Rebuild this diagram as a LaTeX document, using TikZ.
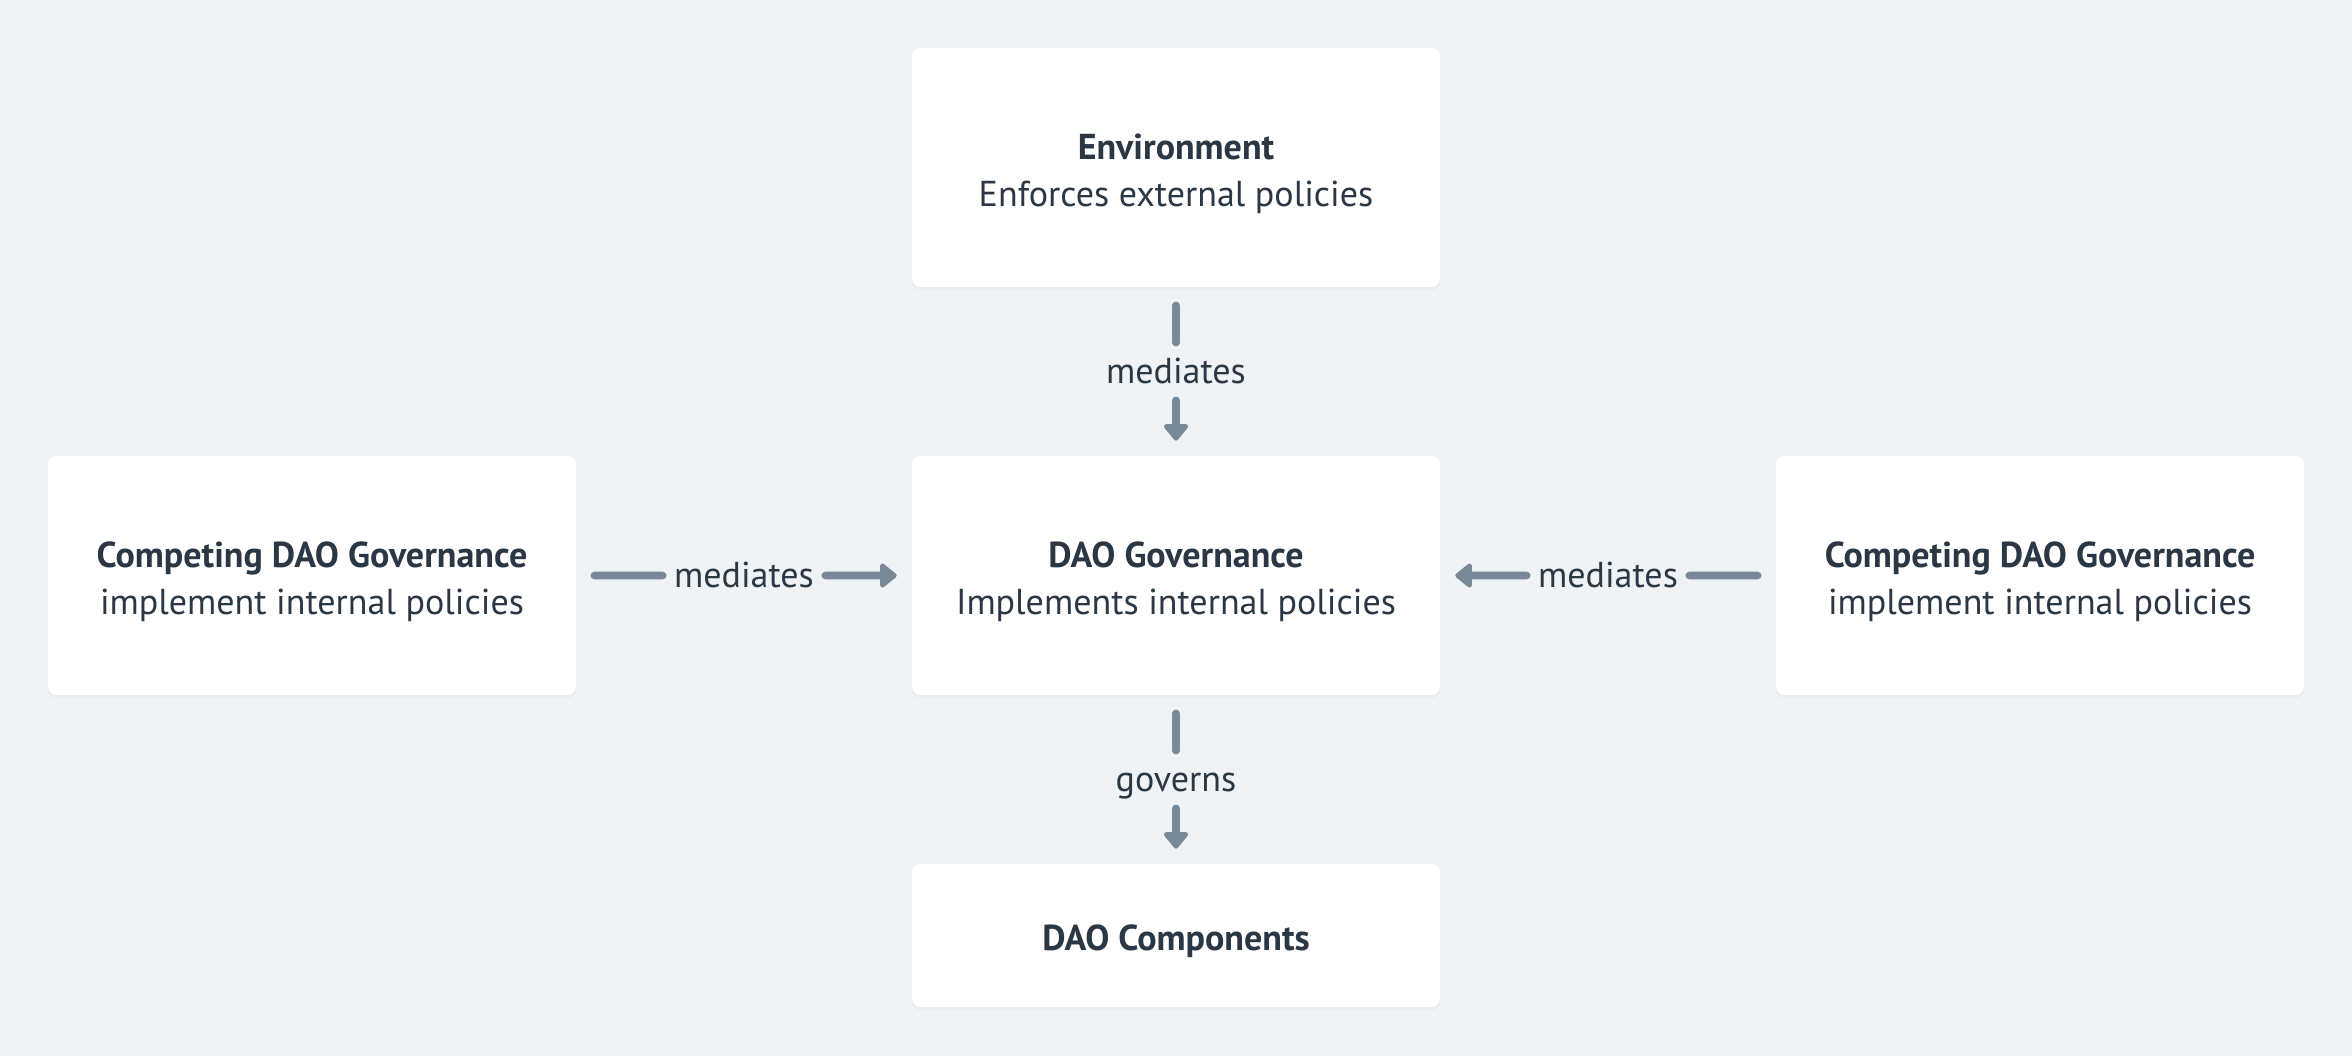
\documentclass[tikz,border=0pt]{standalone}
\usepackage{fontspec}
\setmainfont{PT Sans}
\usetikzlibrary{arrows.meta,shadows,calc}
\definecolor{bgcol}{HTML}{EFF3F6}
\definecolor{inkcol}{HTML}{2A3744}
\definecolor{linkcol}{HTML}{788897}
\newcommand\lift{\rule{0pt}{21.5pt}}
\tikzset{
  card/.style={fill=white, rounded corners=0.18cm, minimum width=10.56cm,
    minimum height=4.78cm, align=center, text=inkcol,
    font=\fontsize{20.5}{27}\selectfont,
    drop shadow={opacity=0.05, shadow xshift=0pt, shadow yshift=-0.06cm}},
  verb/.style={text=inkcol, font=\fontsize{20.5}{22}\selectfont,
    inner sep=0pt, text height=0.58cm, text depth=0.12cm},
  link/.style={draw=linkcol, line width=4.3pt, line cap=round,
    shorten <=0.36cm, shorten >=0.22cm},
  tolink/.style={draw=linkcol, line width=4.3pt, line cap=round,
    -{Triangle[length=0.36cm,width=0.56cm,round]},
    shorten <=0.22cm, shorten >=0.3cm}
}
\begin{document}
\begin{tikzpicture}[x=0.02cm,y=-0.02cm]
  \fill[bgcol] (0,0) rectangle (2352,1056);
  \useasboundingbox (0,0) rectangle (2352,1056);
  % boxes
  \node[card] (env) at (1176,167.5) {\lift\textbf{Environment}\\Enforces external policies};
  \node[card] (gov) at (1176,575.5) {\lift\textbf{DAO Governance}\\Implements internal policies};
  \node[card] (rivalL) at (312,575.5) {\lift\textbf{Competing DAO Governance}\\implement internal policies};
  \node[card] (rivalR) at (2040,575.5) {\lift\textbf{Competing DAO Governance}\\implement internal policies};
  \node[card, minimum height=2.86cm] (comp) at (1176,935.5) {\lift\textbf{DAO Components}};
  % labels on the links
  \node[verb] (medT) at ($(env.south)!0.5!(gov.north)$) {mediates};
  \node[verb] (medL) at ($(rivalL.east)!0.5!(gov.west)$) {mediates};
  \node[verb] (medR) at ($(rivalR.west)!0.5!(gov.east)$) {mediates};
  \node[verb] (gvn) at ($(gov.south)!0.5!(comp.north)$) {governs};
  % links
  \draw[link] (env) -- (medT);
  \draw[tolink] (medT) -- (gov);
  \draw[link] (rivalL) -- (medL);
  \draw[tolink] (medL) -- (gov);
  \draw[link] (rivalR) -- (medR);
  \draw[tolink] (medR) -- (gov);
  \draw[link] (gov) -- (gvn);
  \draw[tolink] (gvn) -- (comp);
\end{tikzpicture}
\end{document}
